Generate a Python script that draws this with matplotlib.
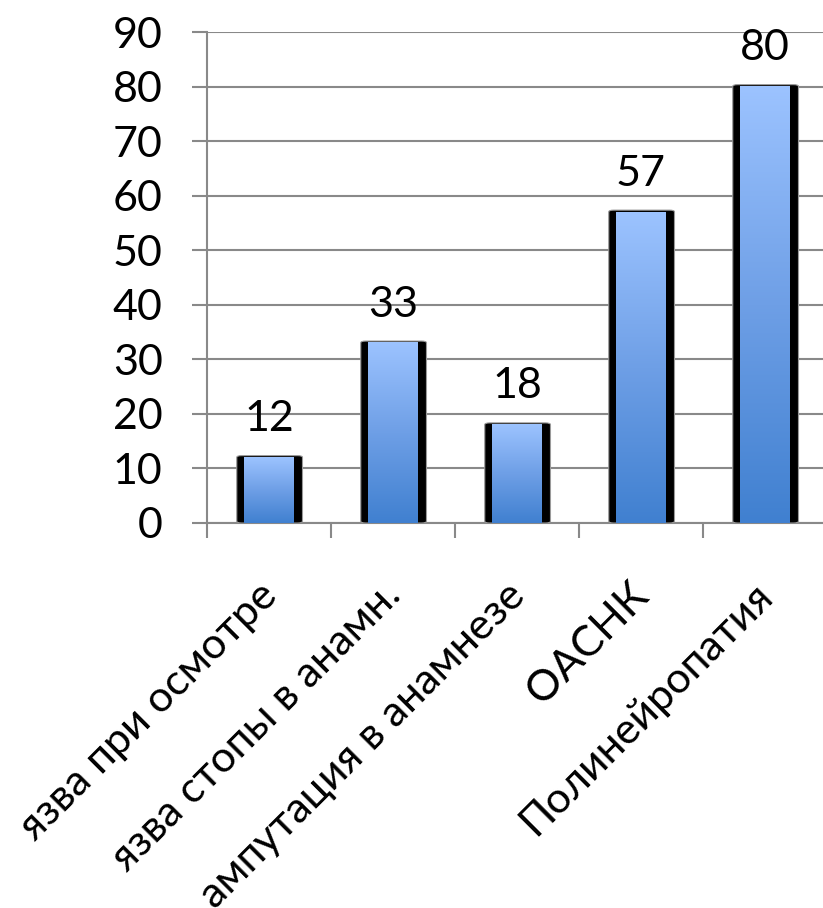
import numpy as np
import matplotlib
matplotlib.use('Agg')
import matplotlib.pyplot as plt
import matplotlib.transforms as mtransforms
from matplotlib.colors import LinearSegmentedColormap
from matplotlib.patches import FancyBboxPatch

plt.rcParams['font.family'] = ['Lato', 'DejaVu Sans']

categories = ['язва при осмотре', 'язва стопы в анамн.', 'ампутация в анамнезе',
              'ОАСНК', 'Полинейропатия']
values = [12, 33, 18, 57, 80]
yticks = list(range(0, 100, 10))

grid_col = '#898989'
grad = LinearSegmentedColormap.from_list('bar', ['#4080d0', '#6e9fe6', '#9cc3ff'])

fig = plt.figure(figsize=(8.23, 9.08), dpi=100)
ax = fig.add_axes([207 / 823, 1 - 523 / 908, 620 / 823, 491 / 908])

ax.set_xlim(-0.5, len(categories) - 0.5)
ax.set_ylim(0, 90)

# gradient image used for every bar
g = np.linspace(0, 1, 256).reshape(-1, 1)

for i, v in enumerate(values):
    # black shadow/frame behind the bar
    frame = FancyBboxPatch((i - 0.26, 0), 0.53, v + 0.35,
                           boxstyle='round,pad=0,rounding_size=0.04',
                           mutation_aspect=8,
                           facecolor='black', edgecolor='#9a9a9a', lw=0.8, zorder=3)
    ax.add_patch(frame)
    ax.imshow(g, cmap=grad, origin='lower', aspect='auto',
              extent=(i - 0.2, i + 0.2, 0, v), zorder=4, interpolation='bilinear')
    ax.annotate(str(v), (i, v), xytext=(0, 14), textcoords='offset points',
                ha='center', va='bottom', fontsize=31, color='black', zorder=5)

ax.set_yticks(yticks)
ax.set_xticks(np.arange(len(categories) + 1) - 0.5, minor=True)
ax.set_xticks(np.arange(len(categories)))
ax.set_xticklabels(categories, rotation=45, ha='right', va='top',
                   rotation_mode='anchor', fontsize=31)
ax.tick_params(axis='x', which='major', length=0, pad=38)
ax.tick_params(axis='x', which='minor', length=11, width=1.5, color=grid_col)
ax.tick_params(axis='y', length=11, width=1.5, color=grid_col, labelsize=31, pad=21)

# nudge the rotated labels a little to the left
shift = mtransforms.ScaledTranslation(-12 / 100, 0, fig.dpi_scale_trans)
for lab in ax.get_xticklabels():
    lab.set_transform(lab.get_transform() + shift)

ax.yaxis.grid(True, color=grid_col, lw=1.5, zorder=0)
ax.set_axisbelow(True)
for s in ['top', 'right']:
    ax.spines[s].set_visible(False)
for s in ['left', 'bottom']:
    ax.spines[s].set_color(grid_col)
    ax.spines[s].set_linewidth(1.5)

fig.savefig('out.png', dpi=100)
